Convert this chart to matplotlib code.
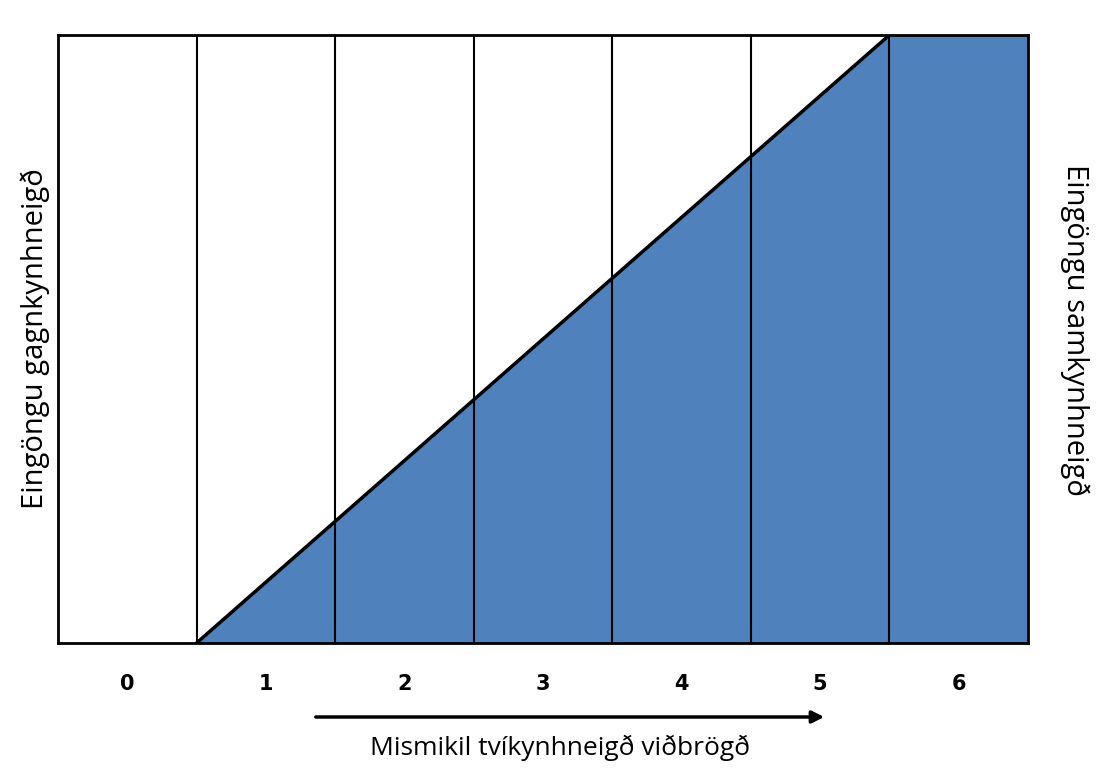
import matplotlib
matplotlib.use("Agg")
import matplotlib.pyplot as plt

categories = [0, 1, 2, 3, 4, 5, 6]
boundary_x = [1, 2, 3, 4, 5, 6]
homo_share = [0.0, 0.2, 0.4, 0.6, 0.8, 1.0]
blue = "#4f81bd"

W, H = 1101, 769
fig = plt.figure(figsize=(W/100, H/100), dpi=100)
ax = fig.add_axes([58/W, 1-643/H, (1028-58)/W, (643-35)/H])
ax.set_xlim(0, 7); ax.set_ylim(0, 1)

xs = boundary_x + [7, 7]
ys = homo_share + [1.0, 0.0]
ax.fill(xs + [boundary_x[0]], ys + [homo_share[0]], color=blue, lw=0)
ax.plot(boundary_x, homo_share, color="black", lw=2.5)
for b in boundary_x:
    ax.axvline(b, color="black", lw=1.5)
for s in ax.spines.values():
    s.set_linewidth(2)
ax.set_xticks([c + 0.5 for c in categories])
ax.set_xticklabels([str(c) for c in categories], fontsize=15, fontweight="bold")
ax.tick_params(axis="x", length=0, pad=22)
ax.set_yticks([])

fig.text(35/W, 1-339/H, "Eingöngu gagnkynhneigð", rotation=90, ha="center", va="center", fontsize=21, family="Open Sans")
fig.text(1075/W, 1-330/H, "Eingöngu samkynhneigð", rotation=-90, ha="center", va="center", fontsize=21, family="Open Sans")
fig.text(560/W, 1-748/H, "Mismikil tvíkynhneigð viðbrögð", ha="center", va="center", fontsize=19, family="Open Sans")
fig.add_artist(matplotlib.patches.FancyArrowPatch((313/W, 1-717/H), (827/W, 1-717/H),
    transform=fig.transFigure, arrowstyle="-|>", mutation_scale=18, lw=2.5, color="black"))
fig.savefig("out.png", dpi=100, facecolor="white")
